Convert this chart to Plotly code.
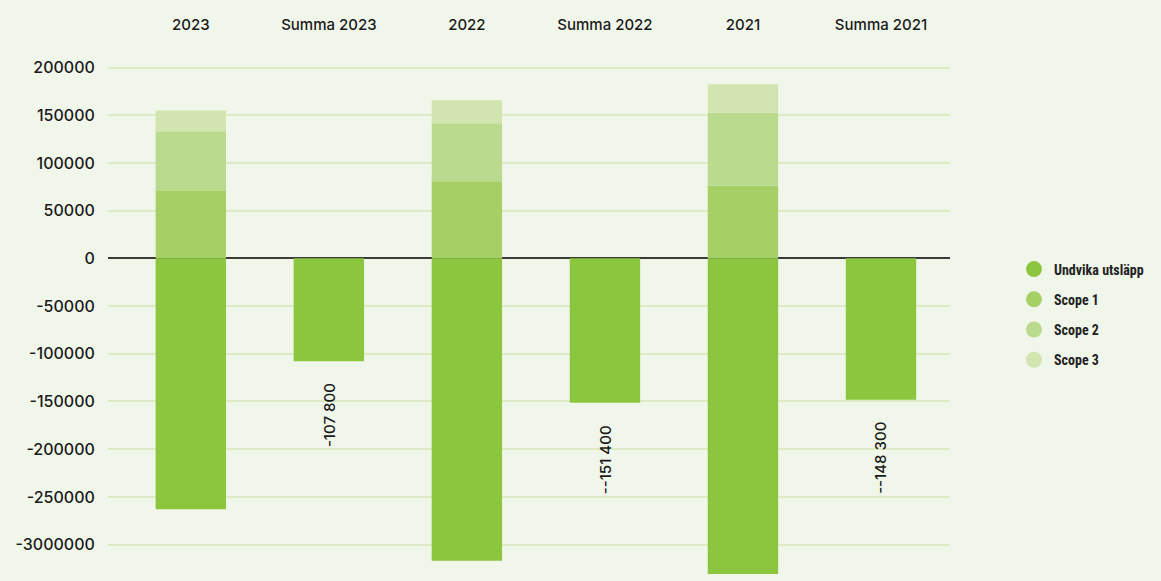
import plotly.graph_objects as go

categories = ["2023", "Summa 2023", "2022", "Summa 2022", "2021", "Summa 2021"]
years = ["2023", "2022", "2021"]
summa_cats = ["Summa 2023", "Summa 2022", "Summa 2021"]
undvika = [-262900, -317000, -330700]
scope1 = [71300, 80700, 76500]
scope2 = [61800, 60800, 76200]
scope3 = [22000, 24100, 29700]
summa = [-107800, -151400, -148300]
summa_labels = ["-107 800", "--151 400", "--148 300"]

tickvals = [200000, 150000, 100000, 50000, 0, -50000, -100000, -150000, -200000, -250000, -300000]
ticktext = ["200000", "150000", "100000", "50000", "0", "-50000", "-100000",
            "-150000", "-200000", "-250000", "-3000000"]

BG = "#f1f6ea"
C_UND = "#8cc63f"
C_S1 = "#a6cf66"
C_S2 = "#badb8d"
C_S3 = "#d2e5b1"
FONT = "Inter, Roboto, sans-serif"

fig = go.Figure()
bar_line = dict(width=0)
fig.add_bar(x=years, y=undvika, marker=dict(color=C_UND, line=bar_line), name="Undvika utsläpp", showlegend=False)
fig.add_bar(x=years, y=scope1, marker=dict(color=C_S1, line=bar_line), name="Scope 1", showlegend=False)
fig.add_bar(x=years, y=scope2, marker=dict(color=C_S2, line=bar_line), name="Scope 2", showlegend=False)
fig.add_bar(x=years, y=scope3, marker=dict(color=C_S3, line=bar_line), name="Scope 3", showlegend=False)
fig.add_bar(x=summa_cats, y=summa, marker=dict(color=C_UND, line=bar_line), name="Summa", showlegend=False)

for name, col in [("Undvika utsläpp", C_UND), ("Scope 1", C_S1), ("Scope 2", C_S2), ("Scope 3", C_S3)]:
    fig.add_scatter(x=[None], y=[None], mode="markers", name=name, legendgroup=name,
                    marker=dict(size=16, color=col, symbol="circle"))

for cat, val, lab in zip(summa_cats, summa, summa_labels):
    fig.add_annotation(x=cat, y=val, text=lab, textangle=-90, showarrow=False,
                       yanchor="top", yshift=-20,
                       font=dict(family=FONT, size=15, color="#1a1a1a", weight=500))

fig.update_layout(
    width=1161, height=581,
    paper_bgcolor=BG, plot_bgcolor=BG,
    barmode="relative", bargap=0.49,
    margin=dict(l=108, r=211, t=58, b=3),
    font=dict(family=FONT, color="#1a1a1a"),
    legend=dict(x=1.076, xanchor="left", y=0.624, yanchor="top",
                font=dict(family="Liberation Sans Narrow, Roboto Condensed, sans-serif",
                          size=14, color="#222", weight="bold"),
                tracegroupgap=9, itemwidth=30, bgcolor="rgba(0,0,0,0)"),
    xaxis=dict(categoryorder="array", categoryarray=categories, side="top",
               range=[-0.6, 5.5], showgrid=False, showline=False, zeroline=False,
               ticks="outside", ticklen=21, tickcolor="rgba(0,0,0,0)",
               tickfont=dict(size=15, family=FONT, color="#1a1a1a", weight=500)),
    yaxis=dict(range=[-335000, 210000], tickvals=tickvals, ticktext=ticktext,
               showgrid=True, gridcolor="#dcebc6", gridwidth=1.5,
               zeroline=True, zerolinecolor="#3a3a3a", zerolinewidth=1.5,
               ticks="outside", ticklen=9, tickcolor="rgba(0,0,0,0)",
               tickfont=dict(size=16, family=FONT, color="#1a1a1a", weight=500)),
)

fig.write_html("out.html", config={"displayModeBar": False},
               post_script="document.body.style.margin='0';document.body.style.overflow='hidden';")
